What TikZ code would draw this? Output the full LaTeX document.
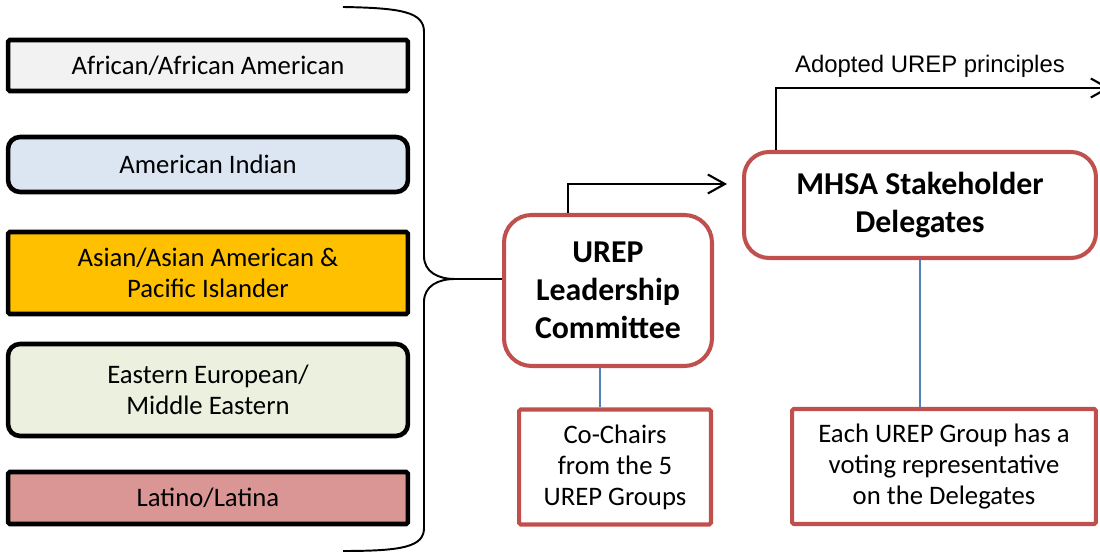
\documentclass[tikz,border=0pt]{standalone}
\usepackage{fontspec}
\setmainfont{Carlito}
\newfontfamily\arialfont{Liberation Sans}
\usetikzlibrary{arrows.meta}
\definecolor{rougebord}{HTML}{C0504D}
\definecolor{bleulien}{HTML}{4F81BD}
\definecolor{gris}{HTML}{F2F2F2}
\definecolor{bleupale}{HTML}{DCE6F2}
\definecolor{orange}{HTML}{FFC000}
\definecolor{vertpale}{HTML}{EBF1DE}
\definecolor{rose}{HTML}{D99694}
\begin{document}
\begin{tikzpicture}[x=0.02cm, y=-0.02cm,
        groupe/.style={draw=black, line width=2.6pt, minimum width=8cm, align=center, rounded corners=1pt, font=\fontsize{15.2}{17.6}\selectfont},
        arrondi/.style={groupe, rounded corners=0.24cm},
        comite/.style={draw=rougebord, line width=2.3pt, fill=white, align=center, font=\bfseries\fontsize{18.1}{21.6}\selectfont},
        note/.style={draw=rougebord, line width=2.3pt, align=center, rounded corners=1pt, minimum height=2.3cm, font=\fontsize{15.2}{17.6}\selectfont},
        fleche/.style={line width=1.2pt, -{Straight Barb[length=0.34cm, width=0.38cm, line width=1.2pt]}},
        lien/.style={draw=bleulien, line width=1.3pt}]
        \useasboundingbox (0,0) rectangle (1100,553);

        \node[groupe, fill=gris, minimum height=1.02cm] (afr) at (208, 65.5) {African/African American};
        \node[arrondi, fill=bleupale, minimum height=1.1cm] (ind) at (208, 164.5) {American Indian};
        \node[groupe, fill=orange, minimum height=1.64cm] (asi) at (208, 273) {Asian/Asian American \&\\Pacific Islander};
        \node[arrondi, fill=vertpale, minimum height=1.84cm] (eur) at (208, 390) {Eastern European/\\Middle Eastern};
        \node[groupe, fill=rose, minimum height=1.04cm] (lat) at (208, 498) {Latino/Latina};

        \node[comite, rounded corners=0.55cm, minimum width=4.16cm, minimum height=3.02cm] (urep) at (608, 290.5) {UREP\\Leadership\\Committee};
        \node[comite, rounded corners=0.5cm, minimum width=7.04cm, minimum height=2.12cm] (mhsa) at (920, 205) {MHSA Stakeholder\\Delegates};

        \node[note, minimum width=3.84cm] (chairs) at (615, 467) {Co-Chairs\\from the 5\\UREP Groups};
        \node[note, minimum width=6.08cm] (vote) at (944, 466.5) {Each UREP Group has a\\voting representative\\on the Delegates};

        \coordinate (pointe) at (455, 279);
        \draw[line width=1.1pt] (343, 7) .. controls (402, 8) and (424, 12) .. (424, 32) -- (424, 256)
            .. controls (424, 272) and (438, 279) .. (pointe)
            .. controls (438, 279) and (424, 286) .. (424, 302) -- (424, 528)
            .. controls (424, 547) and (402, 551) .. (343, 551);
        \draw[line width=1.1pt] (pointe) -- (pointe -| urep.west);

        \coordinate (coude1) at (568, 184);
        \coordinate (fin1) at (727, 184);
        \draw[fleche] (coude1 |- urep.north) -- (coude1) -- (fin1);

        \coordinate (coude2) at (776, 88);
        \coordinate (fin2) at (1110, 88);
        \draw[fleche] (coude2 |- mhsa.north) -- (coude2) -- (fin2);
        \node[font=\arialfont\fontsize{13.6}{15}\selectfont] (adopte) at (930, 66) {Adopted UREP principles};

        \coordinate (bas1) at (600, 380);
        \coordinate (bas2) at (920, 380);
        \draw[lien] (bas1 |- urep.south) -- (bas1 |- chairs.north);
        \draw[lien] (bas2 |- mhsa.south) -- (bas2 |- vote.north);
    \end{tikzpicture}
\end{document}
